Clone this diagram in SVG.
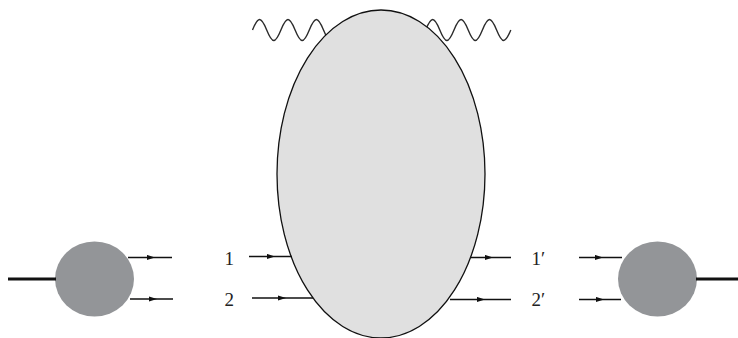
<svg xmlns="http://www.w3.org/2000/svg" width="738" height="338" viewBox="0 0 738 338">
<style>
.wave{fill:none;stroke:#2b2b2b;stroke-width:1.4}
.line{fill:none;stroke:#111;stroke-width:1.3}
.thick{fill:none;stroke:#111;stroke-width:3.2}
.ball{fill:#939598;stroke:none}
.big{fill:#e0e0e0;stroke:#111;stroke-width:1.3}
.lbl{font-family:"Liberation Serif","DejaVu Serif",serif;font-size:19px;fill:#222}
</style>
<defs>
<marker id="ah" markerWidth="9" markerHeight="6" refX="8" refY="3" orient="auto" markerUnits="userSpaceOnUse">
<path d="M0,0.4 L8,3 L0,5.6 Z" fill="#111"/>
</marker>
</defs>
<g id="photon-left">
<path class="wave" d="M252.5,30 c5.68,-14 8.52,-14 14.2,0 s8.52,14 14.2,0 s8.52,-14 14.2,0 s8.52,14 14.2,0 s8.52,-14 14.2,0 s8.52,14 14.2,0"/>
</g>
<g id="photon-right">
<path class="wave" d="M411.4,30 c5.68,14 8.52,14 14.2,0 s8.52,-14 14.2,0 s8.52,14 14.2,0 s8.52,-14 14.2,0 s8.52,14 14.2,0 s8.52,-14 14.2,0 s8.52,14 14.2,0"/>
</g>
<g id="blob">
<ellipse class="big" cx="381" cy="174" rx="104" ry="164"/>
</g>
<g id="ball-left">
<ellipse class="ball" cx="94.5" cy="279" rx="39.5" ry="37.5"/>
</g>
<g id="ball-right">
<ellipse class="ball" cx="657.5" cy="279" rx="39.5" ry="37.5"/>
</g>
<g id="label-1"><text class="lbl" x="224.5" y="265">1</text></g>
<g id="label-2"><text class="lbl" x="224.5" y="306">2</text></g>
<g id="label-1p"><text class="lbl" x="531.5" y="265">1′</text></g>
<g id="label-2p"><text class="lbl" x="531.5" y="306">2′</text></g>
<g id="connectors">
<path class="thick" d="M8,279 H56"/>
<path class="thick" d="M696,279 H738"/>
<path class="line" marker-mid="url(#ah)" d="M128,257.5 L155,257.5 L172,257.5"/>
<path class="line" marker-mid="url(#ah)" d="M130,299 L157,299 L173,299"/>
<path class="line" marker-mid="url(#ah)" d="M249,256.5 L275,256.5 L292,256.5"/>
<path class="line" marker-mid="url(#ah)" d="M252,298 L286,298 L313,298"/>
<path class="line" marker-mid="url(#ah)" d="M470,257.5 L493,257.5 L511,257.5"/>
<path class="line" marker-mid="url(#ah)" d="M450,299.5 L485,299.5 L511,299.5"/>
<path class="line" marker-mid="url(#ah)" d="M579,257.5 L603,257.5 L622,257.5"/>
<path class="line" marker-mid="url(#ah)" d="M579,299.5 L604,299.5 L621,299.5"/>
</g>
</svg>
